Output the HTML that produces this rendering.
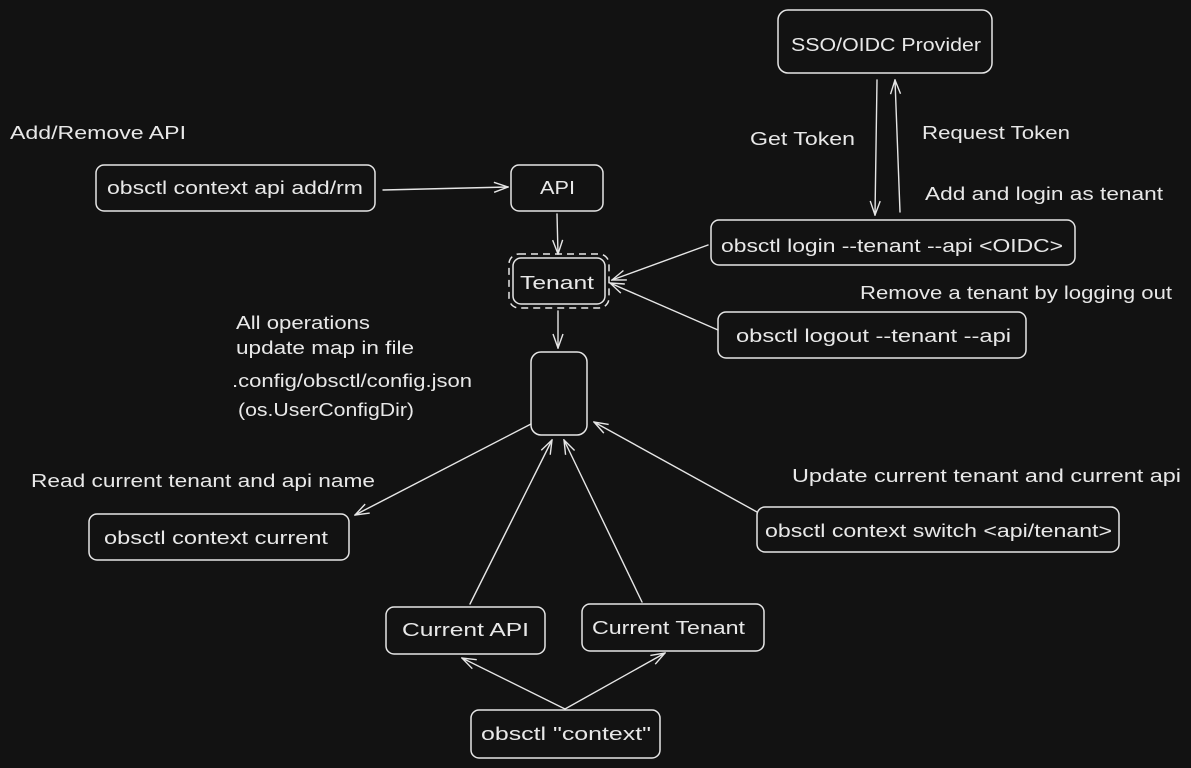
<!DOCTYPE html>
<html><head><meta charset="utf-8"><style>
html,body{margin:0;padding:0;background:#121212;}
svg{display:block}
text{font-family:"Liberation Sans",sans-serif;font-size:18px;fill:#e8e8e8}
.b{fill:none;stroke:#e6e6e6;stroke-width:1.5}
.l{fill:none;stroke:#e6e6e6;stroke-width:1.4;stroke-linecap:round}
</style></head><body>
<svg width="1191" height="768" viewBox="0 0 1191 768" xmlns="http://www.w3.org/2000/svg">
<rect width="1191" height="768" fill="#121212"/>
<defs><marker id="a" markerWidth="16" markerHeight="12" refX="15" refY="6" orient="auto" markerUnits="userSpaceOnUse"><path d="M1,1 L15,6 L1,11" fill="none" stroke="#e6e6e6" stroke-width="1.4"/></marker></defs>

<!-- boxes -->
<rect class="b" x="778" y="10" width="214" height="63" rx="10"/>
<rect class="b" x="711" y="220" width="364" height="45" rx="8"/>
<rect class="b" x="718" y="312" width="308" height="46" rx="8"/>
<rect class="b" x="96" y="165" width="279" height="46" rx="8"/>
<rect class="b" x="511" y="165" width="92" height="46" rx="8"/>
<rect class="b" x="513" y="258" width="92" height="46" rx="8"/>
<rect class="b" x="509" y="254" width="100" height="54" rx="10" stroke-dasharray="7 5"/>
<rect class="b" x="531" y="352" width="56" height="83" rx="10"/>
<rect class="b" x="89" y="514" width="260" height="46" rx="8"/>
<rect class="b" x="757" y="507" width="362" height="45" rx="8"/>
<rect class="b" x="386" y="607" width="159" height="47" rx="8"/>
<rect class="b" x="582" y="604" width="182" height="47" rx="8"/>
<rect class="b" x="471" y="710" width="189" height="48" rx="8"/>

<!-- arrows -->
<path class="l" d="M877,80 L875,215" marker-end="url(#a)"/>
<path class="l" d="M900,212 L895,80" marker-end="url(#a)"/>
<path class="l" d="M708,245 L612,280" marker-end="url(#a)"/>
<path class="l" d="M718,330 L610,283" marker-end="url(#a)"/>
<path class="l" d="M383,190 L508,187" marker-end="url(#a)"/>
<path class="l" d="M557,214 L558,254" marker-end="url(#a)"/>
<path class="l" d="M558,311 L558,348" marker-end="url(#a)"/>
<path class="l" d="M531,424 L355,515" marker-end="url(#a)"/>
<path class="l" d="M757,512 L594,422" marker-end="url(#a)"/>
<path class="l" d="M470,604 L552,440" marker-end="url(#a)"/>
<path class="l" d="M642,602 L564,440" marker-end="url(#a)"/>
<path class="l" d="M565,709 L462,658" marker-end="url(#a)"/>
<path class="l" d="M565,709 L665,653" marker-end="url(#a)"/>

<!-- text -->
<text x="791" y="51" textLength="190" lengthAdjust="spacingAndGlyphs">SSO/OIDC Provider</text>
<text x="750" y="145" textLength="105" lengthAdjust="spacingAndGlyphs">Get Token</text>
<text x="922" y="139" textLength="148" lengthAdjust="spacingAndGlyphs">Request Token</text>
<text x="925" y="200" textLength="238" lengthAdjust="spacingAndGlyphs">Add and login as tenant</text>
<text x="721" y="252" textLength="342" lengthAdjust="spacingAndGlyphs">obsctl login --tenant --api &lt;OIDC&gt;</text>
<text x="860" y="299" textLength="312" lengthAdjust="spacingAndGlyphs">Remove a tenant by logging out</text>
<text x="736" y="342" textLength="275" lengthAdjust="spacingAndGlyphs">obsctl logout --tenant --api</text>
<text x="10" y="139" textLength="176" lengthAdjust="spacingAndGlyphs">Add/Remove API</text>
<text x="107" y="194" textLength="256" lengthAdjust="spacingAndGlyphs">obsctl context api add/rm</text>
<text x="540" y="194" textLength="35" lengthAdjust="spacingAndGlyphs">API</text>
<text x="520" y="289" textLength="74" lengthAdjust="spacingAndGlyphs">Tenant</text>
<text x="236" y="329" textLength="134" lengthAdjust="spacingAndGlyphs">All operations</text>
<text x="236" y="354" textLength="178" lengthAdjust="spacingAndGlyphs">update map in file</text>
<text x="232" y="387" textLength="240" lengthAdjust="spacingAndGlyphs">.config/obsctl/config.json</text>
<text x="238" y="416" textLength="176" lengthAdjust="spacingAndGlyphs">(os.UserConfigDir)</text>
<text x="31" y="487" textLength="344" lengthAdjust="spacingAndGlyphs">Read current tenant and api name</text>
<text x="104" y="544" textLength="224" lengthAdjust="spacingAndGlyphs">obsctl context current</text>
<text x="792" y="482" textLength="389" lengthAdjust="spacingAndGlyphs">Update current tenant and current api</text>
<text x="765" y="537" textLength="347" lengthAdjust="spacingAndGlyphs">obsctl context switch &lt;api/tenant&gt;</text>
<text x="402" y="636" textLength="127" lengthAdjust="spacingAndGlyphs">Current API</text>
<text x="592" y="634" textLength="153" lengthAdjust="spacingAndGlyphs">Current Tenant</text>
<text x="481" y="740" textLength="170" lengthAdjust="spacingAndGlyphs">obsctl "context"</text>
</svg>
</body></html>
